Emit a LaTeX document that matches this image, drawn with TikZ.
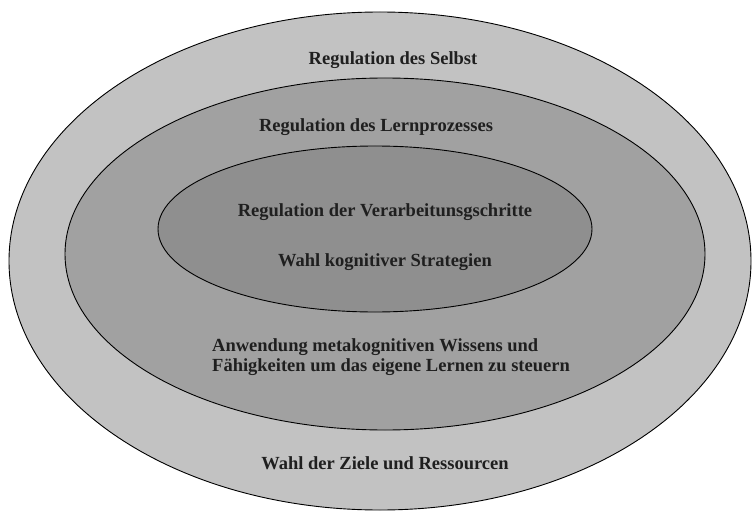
\documentclass[tikz,border=0pt]{standalone}
\usepackage{fontspec}
\setmainfont{Liberation Serif}
\begin{document}
\begin{tikzpicture}[x=1pt,y=-1pt,
  lbl/.style={font=\fontsize{18.5}{21}\selectfont\bfseries, text=black!88, inner sep=0pt},
  ring/.style={draw=black, line width=0.9pt}]
\useasboundingbox[fill=white] (0,0) rectangle (754,513);
\definecolor{outerc}{gray}{0.76}
\definecolor{midc}{gray}{0.63}
\definecolor{innerc}{gray}{0.56}
\fill[outerc] (380,261) ellipse [x radius=371, y radius=249];
\draw[ring] (380,261) ellipse [x radius=371, y radius=249];
\fill[midc] (385,254) ellipse [x radius=320, y radius=176];
\draw[ring] (385,254) ellipse [x radius=320, y radius=176];
\fill[innerc] (375,229) ellipse [x radius=217, y radius=83];
\draw[ring] (375,229) ellipse [x radius=217, y radius=83];
\node[lbl] (selbst) at (393,60) {Regulation des Selbst};
\node[lbl] (lern) at (376,127) {Regulation des Lernprozesses};
\node[lbl] (verarb) at (385,212) {Regulation der Verarbeitunsgschritte};
\node[lbl] (kogn) at (385,262) {Wahl kognitiver Strategien};
\node[lbl, align=left, anchor=west, font=\fontsize{18.5}{20}\selectfont\bfseries] (anw) at (212,357) {Anwendung metakognitiven Wissens und\\Fähigkeiten um das eigene Lernen zu steuern};
\node[lbl] (ziele) at (385,463) {Wahl der Ziele und Ressourcen};
\end{tikzpicture}
\end{document}
